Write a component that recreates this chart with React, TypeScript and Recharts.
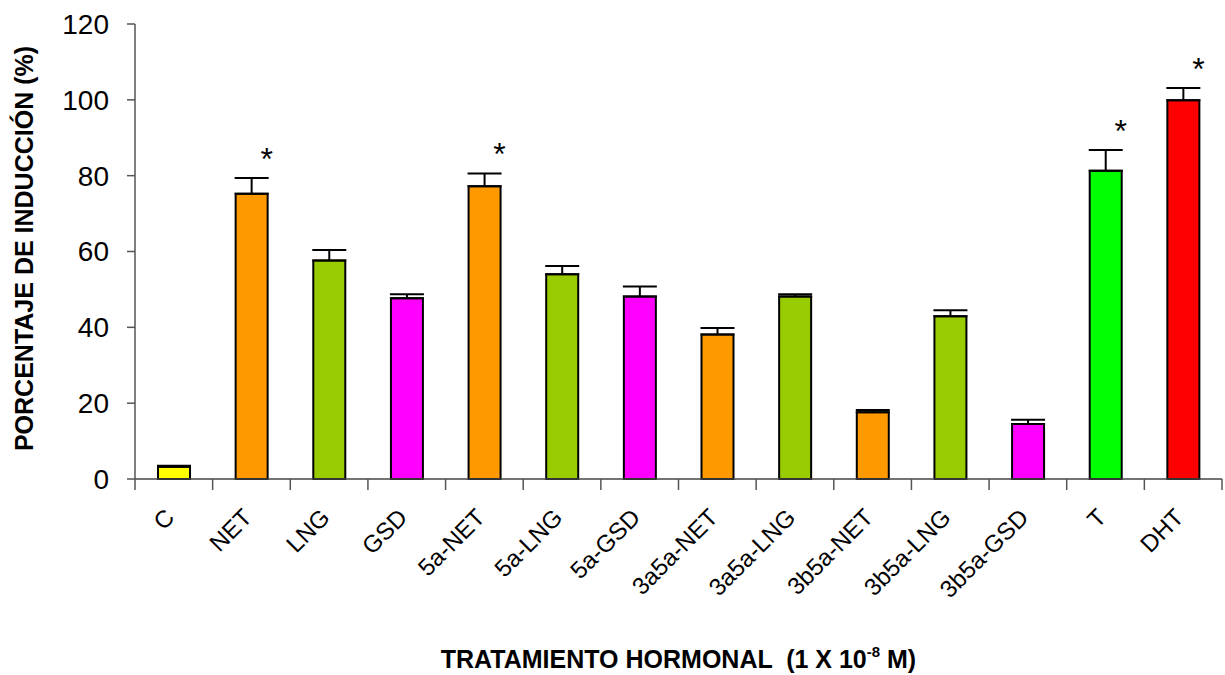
import React from 'react';
import {
  BarChart,
  Bar,
  XAxis,
  YAxis,
  Cell,
  ErrorBar,
  LabelList,
} from 'recharts';

// categories and values
const categories = [
  'C', 'NET', 'LNG', 'GSD', '5a-NET', '5a-LNG', '5a-GSD',
  '3a5a-NET', '3a5a-LNG', '3b5a-NET', '3b5a-LNG', '3b5a-GSD', 'T', 'DHT',
];
const values = [3.2, 75.2, 57.6, 47.7, 77.2, 54.0, 48.1, 38.1, 48.1, 17.6, 42.9, 14.5, 81.3, 99.9];
const errors = [0.3, 4.2, 2.8, 1.0, 3.4, 2.2, 2.7, 1.7, 0.6, 0.6, 1.6, 1.1, 5.5, 3.2];
const significant = [false, true, false, false, true, false, false, false, false, false, false, false, true, true];
const barColors = [
  '#ffff00', '#ff9900', '#99cc00', '#ff00ff', '#ff9900', '#99cc00', '#ff00ff',
  '#ff9900', '#99cc00', '#ff9900', '#99cc00', '#ff00ff', '#00ff00', '#ff0000',
];
const yTicks = [0, 20, 40, 60, 80, 100, 120];

const FONT = "Arial, 'Liberation Sans', sans-serif";
const AXIS_GREY = '#555';
const C45 = Math.SQRT1_2;

const data = categories.map((name, i) => ({
  name,
  value: values[i],
  err: [0, errors[i]],
}));

// category label + tick marks between categories (Excel style)
const renderCategoryTick = (props: any) => {
  const { x, y, payload, width, index } = props;
  const half = payload && payload.offset ? payload.offset : width / (2 * categories.length);
  const isLast = index === categories.length - 1;
  const tx = x + 2;
  const ty = y + 40;
  return (
    <g>
      <line x1={x - half} x2={x - half} y1={y} y2={y + 11} stroke={AXIS_GREY} strokeWidth={1.5} />
      {isLast && (
        <line x1={x + half} x2={x + half} y1={y} y2={y + 11} stroke={AXIS_GREY} strokeWidth={1.5} />
      )}
      <g transform={`matrix(${C45} ${-C45} ${C45} ${C45} ${tx} ${ty})`}>
        <text x={0} y={0} textAnchor="end" fontSize={24} fontFamily={FONT} fill="#000">
          {payload.value}
        </text>
      </g>
    </g>
  );
};

const Asterisk = (props: any) => {
  const { x, y, width, height, value, index } = props;
  if (!significant[index]) return null;
  const pxPerUnit = Number(height) / Number(value);
  const errPx = errors[index] * pxPerUnit;
  return (
    <text
      x={Number(x) + Number(width) / 2 + 15}
      y={Number(y) - errPx - 8}
      textAnchor="middle"
      fontSize={32}
      fontFamily={FONT}
      fill="#000"
    >
      *
    </text>
  );
};

const YTitle = (props: any) => {
  const vb = props.viewBox || {};
  const cx = vb.x + 24;
  const cy = vb.y + vb.height / 2 - 3;
  return (
    <text
      x={cx}
      y={cy}
      transform={`rotate(-90, ${cx}, ${cy})`}
      textAnchor="middle"
      dominantBaseline="central"
      fontSize={25}
      fontWeight="bold"
      fontFamily={FONT}
      fill="#000"
    >
      PORCENTAJE DE INDUCCIÓN (%)
    </text>
  );
};

const XTitle = (props: any) => {
  const vb = props.viewBox || {};
  return (
    <text
      x={vb.x + vb.width / 2}
      y={668}
      textAnchor="middle"
      fontSize={25}
      fontWeight="bold"
      fontFamily={FONT}
      fill="#000"
    >
      {'TRATAMIENTO HORMONAL \u00a0(1 X 10'}
      <tspan dy={-11} fontSize={15}>-8</tspan>
      <tspan dy={11}> M)</tspan>
    </text>
  );
};

export default function App() {
  return (
    <div style={{ position: 'absolute', left: 0, top: 0, width: 1225, height: 675, background: '#fff' }}>
      <BarChart
        width={1225}
        height={675}
        data={data}
        margin={{ top: 24, right: 3, left: 0, bottom: 0 }}
      >
        <XAxis
          dataKey="name"
          interval={0}
          tickLine={false}
          tickSize={0}
          tickMargin={0}
          axisLine={{ stroke: '#444', strokeWidth: 1.5 }}
          tick={renderCategoryTick}
          height={196}
          label={<XTitle />}
        />
        <YAxis
          domain={[0, 120]}
          ticks={yTicks}
          width={135}
          tickSize={8}
          tickMargin={18}
          axisLine={{ stroke: AXIS_GREY, strokeWidth: 1.5 }}
          tickLine={{ stroke: AXIS_GREY, strokeWidth: 1.5 }}
          tick={{ fontSize: 28, fill: '#000', fontFamily: FONT }}
          label={<YTitle />}
        />
        <Bar
          dataKey="value"
          barSize={32}
          stroke="#000"
          strokeWidth={2}
          isAnimationActive={false}
        >
          {data.map((entry, index) => (
            <Cell key={`cell-${index}`} fill={barColors[index]} />
          ))}
          <ErrorBar
            dataKey="err"
            direction="y"
            width={17}
            stroke="#000"
            strokeWidth={2}
            isAnimationActive={false}
          />
          <LabelList dataKey="value" content={<Asterisk />} />
        </Bar>
      </BarChart>
    </div>
  );
}
